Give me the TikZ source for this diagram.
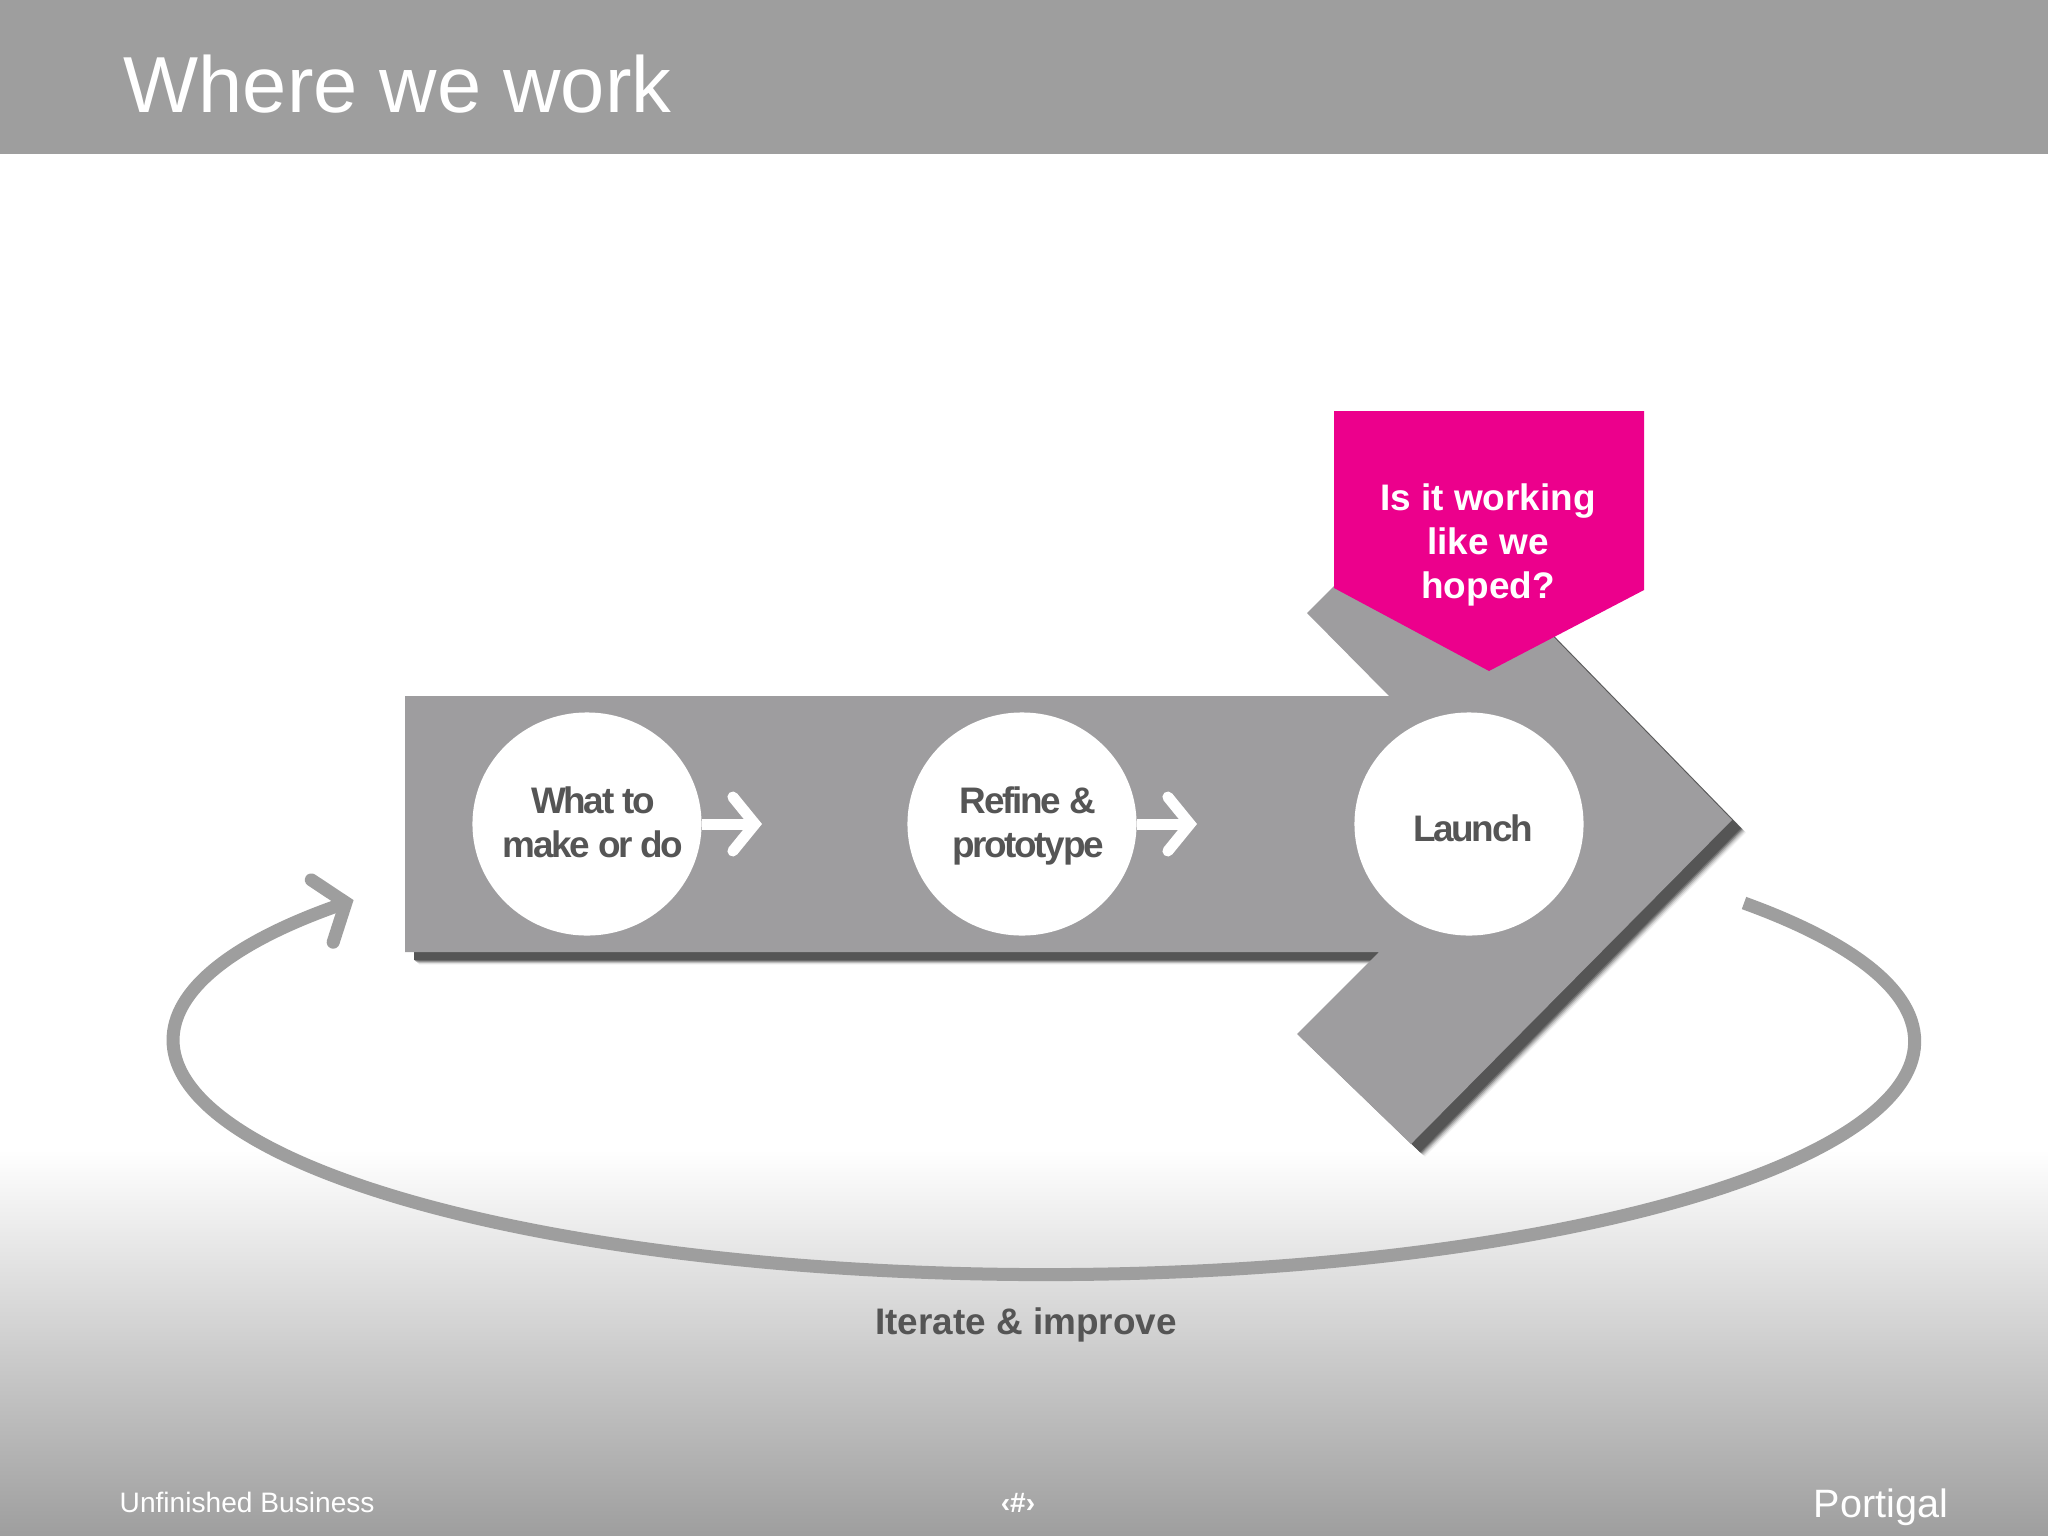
\documentclass[tikz,border=0pt]{standalone}
\usepackage{fontspec}
\setmainfont{Liberation Sans}
\newfontfamily\tightfont[LetterSpace=-6.2]{Liberation Sans}
\usetikzlibrary{arrows.meta,shapes.geometric}
\definecolor{bandgray}{HTML}{9E9E9E}
\definecolor{bodygray}{HTML}{9E9D9F}
\definecolor{inkgray}{HTML}{555555}
\definecolor{hotpink}{HTML}{EC008C}
\newcommand{\bigarrow}{(405, 696) -- (1389, 696) -- (1307, 613) -- (1420, 500) -- (1732, 820) -- (1411, 1144) -- (1297, 1034) -- (1379, 952) -- (405, 952) -- cycle}
\tikzset{
    stepcircle/.style={ellipse, fill=white, inner sep=0pt, minimum width=2.29cm, minimum height=2.23cm},
    steptext/.style={font=\tightfont\bfseries\fontsize{10.5}{12.6}\selectfont, text=inkgray, align=center},
    stepflow/.style={white, line width=.11cm, -{Straight Barb[length=.22cm, width=.54cm, line cap=round, line join=miter]}},
    loopline/.style={bandgray, line width=.13cm, -{Straight Barb[length=.25cm, width=.66cm, line cap=round, line join=miter]}},
    footertext/.style={text=white, anchor=base west, inner sep=0pt}
}
\begin{document}
\begin{tikzpicture}[x=.01cm, y=-.01cm]
                    \useasboundingbox (0, 0) rectangle (2048, 1536);
                    \fill[white] (0, 0) rectangle (2048, 1536);
                    \shade[top color=white, bottom color=bandgray] (0, 1150) rectangle (2048, 1536);
                    \fill[bandgray] (0, 0) rectangle (2048, 154);
                        \node[footertext, font=\fontsize{22.6}{26}\selectfont] (title) at (123, 112){Where we work};
                    \coordinate (loopstart) at (1744, 903);
                    \draw[loopline] (loopstart) arc[start angle=-36.5, end angle=217.4, x radius=870, y radius=233];
                        \node[font=\bfseries\fontsize{10.5}{12.6}\selectfont, text=inkgray] (iterate) at (1026, 1325){Iterate \& improve};
                    \foreach \s/\o in {14/.08, 13/.14, 12/.22, 11/.35, 10/.6, 9/1}
                        \fill[inkgray, opacity=\o, shift={(\s, .9*\s)}] \bigarrow;
                    \fill[bodygray] \bigarrow;
                    \fill[hotpink] (1334, 411) -- (1644, 411) -- (1644, 590) -- (1489, 671) -- (1334, 588) -- cycle;
                        \node[font=\bfseries\fontsize{10.5}{12.6}\selectfont, text=white, align=center] (hoped) at (1488, 545){Is it working\\like we\\hoped?};
                    \node[stepcircle] (what) at (587, 824){};
                        \node[steptext] (whattext) at (593, 822){What to\\make or do};
                    \node[stepcircle] (refine) at (1022, 824){};
                        \node[steptext] (refinetext) at (1028, 826){Refine \&\\prototype};
                    \node[stepcircle] (launch) at (1469, 824){};
                        \node[steptext] (launchtext) at (1473, 828){Launch};
                    \coordinate (whattip) at (762, 824);
                    \coordinate (refinetip) at (1197, 824);
                    \draw[stepflow] (what.east) to (whattip);
                    \draw[stepflow] (refine.east) to (refinetip);
                        \node[footertext, font=\fontsize{8}{10}\selectfont] (footleft) at (119, 1512){Unfinished Business};
                        \node[text=white, font=\bfseries\fontsize{8}{10}\selectfont, inner sep=0pt] (pagenum) at (1018, 1503){‹\#›};
                        \node[footertext, font=\fontsize{11.25}{13}\selectfont] (portigal) at (1813, 1517){Portigal};
                \end{tikzpicture}
\end{document}
